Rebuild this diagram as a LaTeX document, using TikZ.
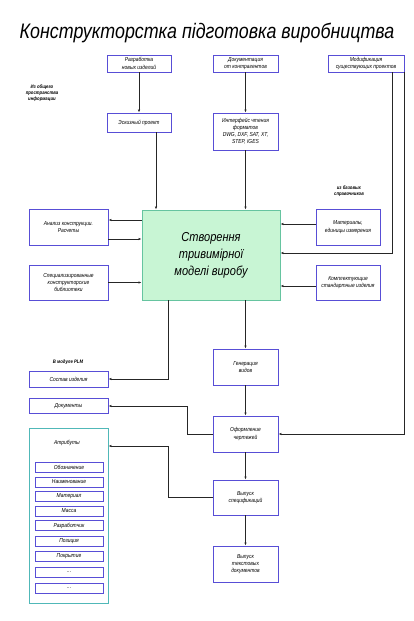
\documentclass[tikz,border=0pt]{standalone}
\usepackage{fontspec}
\setmainfont{Liberation Sans}[FakeStretch=0.85]
\newfontfamily\titlefont{Liberation Sans}[FakeStretch=0.85]
\usetikzlibrary{arrows.meta}
\definecolor{boxblue}{RGB}{88,78,214}
\definecolor{modelfill}{RGB}{200,245,212}
\definecolor{modeldraw}{RGB}{102,196,160}
\definecolor{attrdraw}{RGB}{80,184,184}
\begin{document}
\begin{tikzpicture}[x=1pt, y=-1pt,
  every node/.style={font=\fontsize{5.8}{7.4}\selectfont\itshape, align=center, inner sep=1pt},
  blk/.style={draw=boxblue, line width=0.9pt, fill=white},
  attrbox/.style={blk, minimum width=68pt, minimum height=10pt},
  note/.style={font=\fontsize{5}{6}\selectfont\bfseries\itshape},
  link/.style={draw=black!85, line width=0.8pt, -{Latex[length=3pt,width=2.4pt]}}]
  \useasboundingbox[fill=white] (0,0) rectangle (413,621);
  \node[font=\titlefont\fontsize{21}{24}\selectfont\itshape] (title) at (207,33) {Конструкторстка підготовка виробництва};
  % top row
  \node[blk, minimum width=64pt, minimum height=17pt] (razrab) at (139,63.5) {Разработка\\новых изделий};
  \node[blk, minimum width=65pt, minimum height=17pt] (kontr) at (245.5,63.5) {Документация\\от контрагентов};
  \node[blk, minimum width=76pt, minimum height=17pt] (modif) at (366,63.5) {Модификация\\существующих проектов};
  \node[note] (obsh) at (42,93) {Из общего\\пространства\\информации};
  \node[blk, minimum width=64pt, minimum height=19pt] (eskiz) at (139,122.5) {Эскизный проект};
  \node[blk, minimum width=65pt, minimum height=37pt, font=\fontsize{5.8}{7}\selectfont\itshape] (interf) at (245.5,131.5) {Интерфейс чтения\\форматов\\DWG, DXF, SAT, XT,\\STEP, IGES};
  \node[note] (baz) at (349,191) {из базовых\\справочников};
  % model
  \node[draw=modeldraw, line width=0.9pt, fill=modelfill, minimum width=138pt, minimum height=90pt,
        font=\fontsize{13}{17}\selectfont\itshape] (model) at (211,255) {Створення\\тривимірної\\моделі виробу};
  \node[blk, minimum width=79pt, minimum height=36pt] (analiz) at (68.5,227) {Анализ конструкции.\\Расчеты};
  \node[blk, minimum width=64pt, minimum height=36pt] (mater) at (348,227) {Материалы,\\единицы измерения};
  \node[blk, minimum width=79pt, minimum height=35pt] (biblio) at (68.5,282.5) {Специализированные\\конструкторские\\библиотеки};
  \node[blk, minimum width=64pt, minimum height=35pt] (kompl) at (348,282.5) {Комплектующие\\стандартные изделия};
  % lower part
  \node[note] (plm) at (68,362) {В модуле PLM};
  \node[blk, minimum width=79pt, minimum height=16pt] (sostav) at (68.5,379) {Состав изделия};
  \node[blk, minimum width=65pt, minimum height=36pt] (genvid) at (245.5,367) {Генерация\\видов};
  \node[blk, minimum width=79pt, minimum height=15pt] (docs) at (68.5,406) {Документы};
  \node[blk, minimum width=65pt, minimum height=36pt] (oform) at (245.5,434) {Оформление\\чертежей};
  \node[blk, minimum width=65pt, minimum height=35pt] (vspec) at (245.5,497.5) {Выпуск\\спецификаций};
  \node[blk, minimum width=65pt, minimum height=36pt] (vtext) at (245.5,564) {Выпуск\\текстовых\\документов};
  % attributes
  \node[draw=attrdraw, line width=0.9pt, minimum width=79pt, minimum height=175pt] (attrs) at (68.5,515.5) {};
  \node (attrtitle) at (67,443) {Атрибуты};
  \foreach \i/\y/\t in {1/467/Обозначение,2/482/Наименование,3/496/Материал,4/511/Масса,5/525.5/Разработчик,
                        6/541.5/Позиция,7/556.5/Покрытие,8/572.5/\ldots,9/588.5/\ldots} {
    \node[attrbox] (a\i) at (69,\y) {\t};
  }
  % connectors
  \coordinate (eskizOut) at ([xshift=17pt]eskiz.south);
  \coordinate (modelOut) at ([xshift=-43pt]model.south);
  \coordinate (modifIn) at ([xshift=26pt]modif.south);
  \coordinate (bendD) at (187,406);
  \coordinate (bendA) at (168,446);
  \draw[link] (razrab) -- (eskiz);
  \draw[link] (kontr) -- (interf);
  \draw[link] (eskizOut) -- (eskizOut |- model.north);
  \draw[link] (interf.south) -- (interf.south |- model.north);
  \draw[link] ([yshift=7pt]analiz.east -| model.west) -- ([yshift=7pt]analiz.east);
  \draw[link] ([yshift=-12pt]analiz.east) -- ([yshift=-12pt]analiz.east -| model.west);
  \draw[link] (biblio.east) -- (biblio.east -| model.west);
  \draw[link] ([yshift=3pt]mater.west) -- ([yshift=3pt]mater.west -| model.east);
  \draw[link] ([yshift=-3.5pt]kompl.west) -- ([yshift=-3.5pt]kompl.west -| model.east);
  \draw[link] (modifIn) |- ([yshift=2pt]model.east);
  \draw[link] (modif.south east) |- (oform.east);
  \draw[link] (modelOut) |- (sostav.east);
  \draw[link] (genvid.north |- model.south) -- (genvid.north);
  \draw[link] (genvid) -- (oform);
  \draw[link] (oform.west) -| (bendD) -- (docs.east);
  \draw[link] (oform) -- (vspec);
  \draw[link] (vspec.west) -| (bendA) -- (bendA -| attrs.east);
  \draw[link] (vspec) -- (vtext);
\end{tikzpicture}
\end{document}
